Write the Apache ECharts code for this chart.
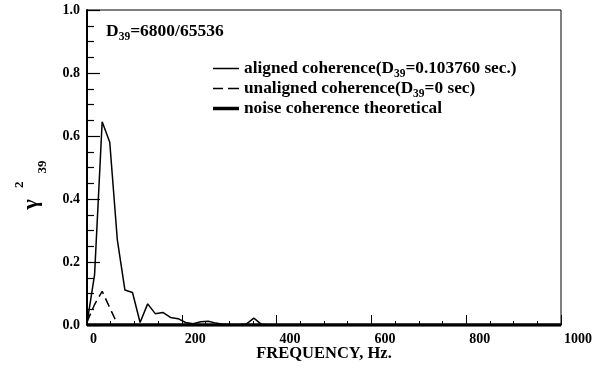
<!DOCTYPE html>
<html>
<head>
<meta charset="utf-8">
<script src="https://cdn.jsdelivr.net/npm/echarts@6/dist/echarts.min.js"></script>
<style>
  html, body { margin: 0; padding: 0; background: #fff; }
  #chart { width: 592px; height: 377px; }
</style>
</head>
<body>
<div id="chart"></div>
<script>
// Coherence spectra, channel 39
const alignedFreq = [0, 16, 32, 48, 64, 80, 96, 112, 128, 144, 160, 176, 192, 208, 224, 240, 256, 272, 288, 304, 320, 336, 352, 368, 384];
const alignedCoh  = [0.005, 0.16, 0.645, 0.58, 0.27, 0.111, 0.103, 0.008, 0.067, 0.036, 0.040, 0.024, 0.020, 0.008, 0.004, 0.010, 0.012, 0.006, 0.002, 0.001, 0.001, 0.003, 0.022, 0.002, 0.0];

const unalignedFreq = [0, 16, 32, 48, 64];
const unalignedCoh  = [0.01, 0.065, 0.107, 0.055, 0.003];

const noiseFreq = [0, 1000];
const noiseCoh  = [0.0, 0.0];

const xTicks = [0, 200, 400, 600, 800, 1000];
const yTicks = [0.0, 0.2, 0.4, 0.6, 0.8, 1.0];

const seriesNames = [
  'aligned coherence(D{s|39}=0.103760 sec.)',
  'unaligned coherence(D{s|39}=0 sec)',
  'noise coherence theoretical'
];

// legend keys: thin solid, dashed, thick solid (all 26 units wide)
const legendIcons = [
  'path://M0,0 h26 v1.5 h-26 z',
  'path://M0,0 h10 v1.5 h-10 z M15,0 h11 v1.5 h-11 z',
  'path://M0,0 h26 v3.5 h-26 z'
];

const pairs = (xs, ys) => xs.map((x, i) => [x, ys[i]]);

const serif = '"Liberation Serif", "DejaVu Serif", serif';

const chart = echarts.init(document.getElementById('chart'), null, { renderer: 'canvas' });

chart.setOption({
  backgroundColor: '#fff',
  animation: false,
  grid: {
    left: 87, right: 31, top: 10, bottom: 52,
    outerBoundsMode: 'none',
    containLabel: false,
    show: true, borderColor: '#000', borderWidth: 1
  },
  xAxis: {
    type: 'value',
    min: xTicks[0], max: xTicks[xTicks.length - 1], interval: 200,
    name: 'FREQUENCY, Hz.',
    nameLocation: 'middle',
    nameMoveOverlap: false,
    nameGap: 20,
    nameTextStyle: { fontFamily: serif, fontWeight: 'bold', fontSize: 16.5, color: '#000' },
    axisLine: { lineStyle: { color: '#000', width: 1.5 } },
    axisTick: { inside: true, length: 10, lineStyle: { color: '#000', width: 1 } },
    minorTick: { show: true, splitNumber: 4, length: 4, lineStyle: { color: '#000', width: 1 } },
    splitLine: { show: false },
    axisLabel: {
      fontFamily: serif, fontWeight: 'bold', fontSize: 14, color: '#000',
      margin: 7, align: 'left', padding: [0, 0, 0, 3],
      formatter: v => String(v)
    }
  },
  yAxis: {
    type: 'value',
    min: yTicks[0], max: yTicks[yTicks.length - 1], interval: 0.2,
    axisLine: { show: true, lineStyle: { color: '#000', width: 2 } },
    axisTick: { show: true, inside: true, length: 13, lineStyle: { color: '#000', width: 1.2 } },
    minorTick: { show: true, splitNumber: 4, length: 7, lineStyle: { color: '#000', width: 1.2 } },
    splitLine: { show: false },
    axisLabel: {
      fontFamily: serif, fontWeight: 'bold', fontSize: 14, color: '#000',
      margin: 7, formatter: v => v.toFixed(1)
    }
  },
  legend: {
    orient: 'vertical',
    left: 213, top: 60,
    padding: 0,
    itemWidth: 26, itemHeight: 14, itemGap: 0,
    textStyle: {
      fontFamily: serif, fontWeight: 'bold', fontSize: 17.3, color: '#000',
      rich: {
        s: { fontFamily: serif, fontWeight: 'bold', fontSize: 11.5, verticalAlign: 'bottom', lineHeight: 11, padding: [0, 0, -3, 0] }
      }
    },
    data: seriesNames.map((name, i) => ({ name, icon: legendIcons[i] }))
  },
  graphic: [
    {
      type: 'text', left: 106, top: 22,
      style: {
        text: '{b|D}{s|39}{b|=6800/65536}',
        rich: {
          b: { fontFamily: serif, fontWeight: 'bold', fontSize: 17.5, fill: '#000' },
          s: { fontFamily: serif, fontWeight: 'bold', fontSize: 11.5, fill: '#000', verticalAlign: 'bottom', padding: [0, 0, -3, 0] }
        }
      }
    },
    {
      type: 'text', x: 31, y: 185, rotation: Math.PI / 2,
      style: {
        text: '{g|γ}{p|2}{s|39}',
        align: 'center', verticalAlign: 'middle',
        rich: {
          g: { fontFamily: serif, fontWeight: 'bold', fontSize: 22, fill: '#000', lineHeight: 36, padding: [0, 11, 0, 0] },
          p: { fontFamily: serif, fontWeight: 'bold', fontSize: 13, fill: '#000', verticalAlign: 'top', lineHeight: 13, padding: [0, 8, 0, 0] },
          s: { fontFamily: serif, fontWeight: 'bold', fontSize: 13, fill: '#000', verticalAlign: 'bottom', lineHeight: 13 }
        }
      }
    }
  ],
  series: [
    {
      name: seriesNames[0], type: 'line', symbol: 'none',
      lineStyle: { color: '#000', width: 1.5 },
      itemStyle: { color: '#000' },
      data: pairs(alignedFreq, alignedCoh)
    },
    {
      name: seriesNames[1], type: 'line', symbol: 'none',
      lineStyle: { color: '#000', width: 1.5, type: [9, 5] },
      itemStyle: { color: '#000' },
      data: pairs(unalignedFreq, unalignedCoh)
    },
    {
      name: seriesNames[2], type: 'line', symbol: 'none',
      lineStyle: { color: '#000', width: 3.5 },
      itemStyle: { color: '#000' },
      data: pairs(noiseFreq, noiseCoh)
    }
  ]
});
</script>
</body>
</html>
